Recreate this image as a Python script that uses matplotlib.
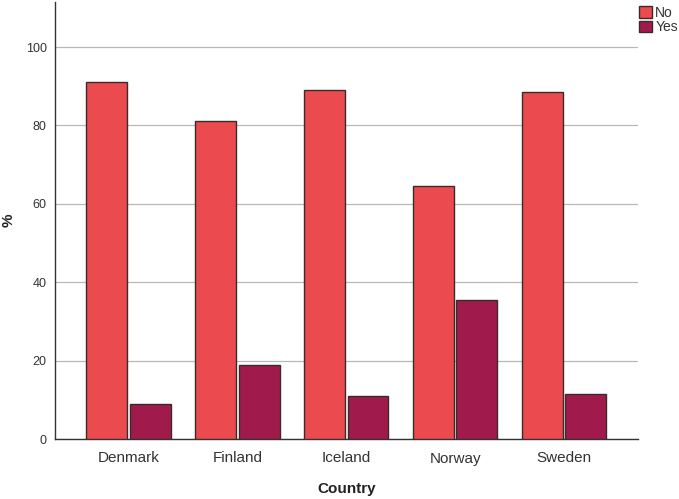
import matplotlib
matplotlib.use("Agg")
import matplotlib.pyplot as plt
import numpy as np

countries = ["Denmark", "Finland", "Iceland", "Norway", "Sweden"]
no_vals = [91.0, 81.1, 89.0, 64.5, 88.5]
yes_vals = [9.0, 18.9, 11.0, 35.5, 11.5]
series_names = ["No", "Yes"]
colors = ["#EB4A4E", "#A11A4C"]
yticks = [0, 20, 40, 60, 80, 100]

plt.rcParams['font.family'] = ['Liberation Sans', 'DejaVu Sans']
fig = plt.figure(figsize=(6.79, 4.99), dpi=100)
ax = fig.add_axes([55/679, 1-439/499, (638-55)/679, (439-2)/499])

x = np.arange(len(countries))
w = 0.375
ax.bar(x - 0.2, no_vals, width=w, color=colors[0], edgecolor="#3a2a2a", linewidth=1, label=series_names[0], zorder=3)
ax.bar(x + 0.2, yes_vals, width=w, color=colors[1], edgecolor="#3a2a2a", linewidth=1, label=series_names[1], zorder=3)

ax.set_xlim(-0.676, 4.68)
ax.set_ylim(0, 111.5)
ax.set_yticks(yticks)
ax.set_yticklabels([str(v) for v in yticks], fontsize=9, color="#333333")
ax.set_xticks(x)
ax.set_xticklabels(countries, fontsize=11, color="#333333")
ax.tick_params(axis='both', length=0)
ax.tick_params(axis='x', pad=9)
ax.tick_params(axis='y', pad=6)
ax.yaxis.grid(True, color="#b8b8b8", linewidth=0.9, zorder=0)
ax.set_axisbelow(True)
for s in ["top", "right"]:
    ax.spines[s].set_visible(False)
for s in ["left", "bottom"]:
    ax.spines[s].set_color("#333333")
    ax.spines[s].set_linewidth(1)

ax.set_xlabel("Country", fontsize=11, fontweight="bold", color="#222222", labelpad=12)
ax.set_ylabel("%", fontsize=11, fontweight="bold", color="#222222")
ax.yaxis.set_label_coords(-0.068, 0.5)

leg = ax.legend(loc="upper left", bbox_to_anchor=(1.0, 0.995), frameon=False, fontsize=10,
                handlelength=0.9, handleheight=0.9, handletextpad=0.25, labelspacing=0.05,
                borderaxespad=0.0, borderpad=0.1)
for t in leg.get_texts():
    t.set_color("#333333")

fig.savefig("out.png", dpi=100)
